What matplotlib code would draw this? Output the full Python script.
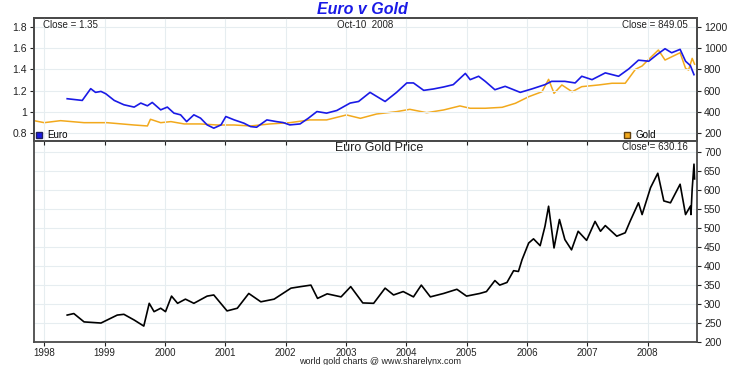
import matplotlib
matplotlib.use("Agg")
import matplotlib.pyplot as plt
from matplotlib.lines import Line2D

plt.rcParams['font.family'] = ['Liberation Sans', 'DejaVu Sans']

# Euro in US$ (left axis, top panel)
euro_t = [1998.38, 1998.63, 1998.77, 1998.85, 1998.94, 1999.02, 1999.16, 1999.32, 1999.49,
          1999.60, 1999.71, 1999.79, 1999.93, 2000.04, 2000.15, 2000.26, 2000.36, 2000.48,
          2000.59, 2000.70, 2000.81, 2000.93, 2001.01, 2001.15, 2001.31, 2001.42, 2001.52,
          2001.69, 2001.85, 2001.96, 2002.07, 2002.24, 2002.38, 2002.52, 2002.68, 2002.85,
          2003.07, 2003.21, 2003.40, 2003.51, 2003.65, 2003.84, 2004.01, 2004.12, 2004.29,
          2004.45, 2004.62, 2004.78, 2004.98, 2005.06, 2005.20, 2005.31, 2005.47, 2005.64,
          2005.89, 2006.08, 2006.30, 2006.41, 2006.63, 2006.80, 2006.91, 2007.08, 2007.30,
          2007.52, 2007.69, 2007.85, 2008.02, 2008.16, 2008.29, 2008.40, 2008.54, 2008.63,
          2008.71, 2008.77]
euro = [1.123, 1.107, 1.218, 1.183, 1.192, 1.170, 1.107, 1.066, 1.044,
        1.082, 1.056, 1.088, 1.018, 1.044, 0.987, 0.971, 0.907, 0.971,
        0.940, 0.876, 0.845, 0.876, 0.955, 0.923, 0.892, 0.860, 0.854,
        0.923, 0.907, 0.898, 0.876, 0.885, 0.940, 1.002, 0.987, 1.012,
        1.082, 1.097, 1.183, 1.145, 1.097, 1.183, 1.272, 1.272, 1.202,
        1.215, 1.234, 1.256, 1.362, 1.303, 1.335, 1.287, 1.208, 1.240,
        1.183, 1.215, 1.256, 1.287, 1.287, 1.272, 1.335, 1.303, 1.367,
        1.335, 1.405, 1.487, 1.477, 1.541, 1.595, 1.557, 1.589, 1.477,
        1.436, 1.350]

# Gold in US$ (right axis, top panel)
gold_t = [1997.83, 1998.00, 1998.27, 1998.66, 1999.04, 1999.49, 1999.71, 1999.76, 1999.93,
          2000.10, 2000.32, 2000.59, 2000.87, 2001.15, 2001.42, 2001.74, 2002.07, 2002.40,
          2002.68, 2003.01, 2003.24, 2003.51, 2003.84, 2004.06, 2004.34, 2004.62, 2004.89,
          2005.06, 2005.31, 2005.59, 2005.81, 2006.03, 2006.25, 2006.36, 2006.45, 2006.58,
          2006.75, 2006.91, 2007.19, 2007.41, 2007.63, 2007.80, 2007.91, 2008.02, 2008.18,
          2008.29, 2008.46, 2008.54, 2008.63, 2008.68, 2008.74, 2008.78]
gold = [316, 297, 316, 297, 297, 275, 266, 329, 297,
        307, 285, 285, 275, 275, 266, 285, 297, 323,
        323, 370, 338, 379, 401, 423, 391, 417, 455,
        433, 433, 442, 480, 542, 589, 706, 574, 653,
        589, 637, 653, 669, 669, 801, 832, 895, 983,
        888, 935, 957, 810, 794, 904, 849]

# Gold priced in Euro (bottom panel)
eg_t = [1998.38, 1998.49, 1998.66, 1998.94, 1999.21, 1999.32, 1999.49, 1999.65, 1999.74,
        1999.82, 1999.93, 2000.01, 2000.11, 2000.21, 2000.34, 2000.48, 2000.70, 2000.81,
        2001.03, 2001.20, 2001.39, 2001.59, 2001.81, 2002.09, 2002.25, 2002.42, 2002.53,
        2002.69, 2002.92, 2003.08, 2003.28, 2003.46, 2003.65, 2003.79, 2003.95, 2004.12,
        2004.25, 2004.40, 2004.62, 2004.84, 2005.00, 2005.22, 2005.33, 2005.47, 2005.55,
        2005.67, 2005.78, 2005.86, 2005.92, 2006.03, 2006.11, 2006.22, 2006.30, 2006.36,
        2006.45, 2006.54, 2006.63, 2006.74, 2006.85, 2006.99, 2007.13, 2007.22, 2007.30,
        2007.49, 2007.63, 2007.71, 2007.85, 2007.91, 2008.05, 2008.17, 2008.27, 2008.38,
        2008.54, 2008.63, 2008.71, 2008.72, 2008.74, 2008.77, 2008.78]
eg = [271, 275, 253, 250, 271, 273, 258, 242, 302,
      280, 289, 280, 321, 302, 313, 302, 321, 324,
      282, 289, 328, 306, 313, 342, 346, 350, 315,
      327, 319, 346, 303, 302, 342, 324, 333, 319,
      350, 319, 328, 339, 321, 328, 333, 362, 350,
      357, 388, 386, 417, 461, 472, 454, 505, 558,
      448, 523, 470, 443, 492, 468, 518, 492, 507,
      479, 488, 518, 567, 536, 607, 645, 572, 567,
      616, 536, 558, 536, 603, 669, 630]

years = list(range(1998, 2009))
left_ticks = [0.8, 1.0, 1.2, 1.4, 1.6, 1.8]
left_labels = ['0.8', '1', '1.2', '1.4', '1.6', '1.8']
right_ticks = [200, 400, 600, 800, 1000, 1200]
bottom_ticks = list(range(200, 701, 50))

BLUE = '#1a1ae6'
ORANGE = '#f2a91c'
FRAME = '#4a4a4a'
GRID = '#e6edf0'
TXT = '#222222'

fig = plt.figure(figsize=(7.30, 3.65), dpi=100)
ax_top = fig.add_axes([34/730, 1-141/365, 663/730, 123/365])
ax_gold = ax_top.twinx()
ax_bot = fig.add_axes([34/730, 1-342/365, 663/730, 201/365])

xlim = (1997.83, 2008.82)

# top panel: gold on the twin axis, drawn underneath the euro line
ax_gold.plot(gold_t, gold, color=ORANGE, lw=1.1, zorder=2)
ax_top.set_zorder(ax_gold.get_zorder() + 1)
ax_top.patch.set_visible(False)
ax_gold.patch.set_visible(True)
ax_gold.patch.set_facecolor('white')
ax_top.plot(euro_t, euro, color=BLUE, lw=1.2, zorder=3)
ax_top.set_xlim(*xlim)
ax_top.set_ylim(0.724, 1.885)
ax_gold.set_ylim(124, 1285)
ax_top.set_yticks(left_ticks)
ax_top.set_yticklabels(left_labels)
ax_gold.set_yticks(right_ticks)
ax_top.set_xticks(years)
ax_top.set_xticklabels([])
ax_top.tick_params(axis='x', length=0)
ax_top.grid(True, color=GRID, lw=0.8, zorder=0)
ax_top.set_axisbelow(True)

# bottom panel
ax_bot.plot(eg_t, eg, color='black', lw=1.2)
ax_bot.set_xlim(*xlim)
ax_bot.set_ylim(200, 730)
ax_bot.set_xticks(years)
ax_bot.set_xticklabels([str(y) for y in years])
ax_bot.yaxis.tick_right()
ax_bot.set_yticks(bottom_ticks)
ax_bot.grid(True, color=GRID, lw=0.8)
ax_bot.set_axisbelow(True)

for a in (ax_top, ax_gold, ax_bot):
    for s in a.spines.values():
        s.set_color(FRAME)
        s.set_linewidth(1.3)
    a.tick_params(labelsize=7.5, colors=TXT, length=3, width=0.8, pad=2)
ax_top.tick_params(axis='y', direction='out')
ax_bot.tick_params(axis='x', length=3, pad=1, labelsize=7)

# labels
fig.text(0.497, 1-9/365, 'Euro v Gold', ha='center', va='center',
         fontsize=11.5, fontweight='bold', fontstyle='italic', color=BLUE)
ax_top.text(0.5, 0.985, 'Oct-10  2008', transform=ax_top.transAxes, ha='center', va='top',
            fontsize=7, color=TXT)
ax_top.text(0.014, 0.985, 'Close = 1.35', transform=ax_top.transAxes, ha='left', va='top',
            fontsize=7, color=TXT)
ax_top.text(0.986, 0.985, 'Close = 849.05', transform=ax_top.transAxes, ha='right', va='top',
            fontsize=7, color=TXT)
ax_bot.text(0.52, 0.995, 'Euro Gold Price', transform=ax_bot.transAxes, ha='center', va='top',
            fontsize=9, color=TXT)
ax_bot.text(0.986, 0.995, 'Close = 630.16', transform=ax_bot.transAxes, ha='right', va='top',
            fontsize=7, color=TXT)
fig.text(0.52, 1-361.5/365, 'world gold charts @ www.sharelynx.com', ha='center', va='center',
         fontsize=6.5, color=TXT)

# legend squares
h_euro = Line2D([], [], marker='s', ls='none', markersize=5, markerfacecolor=BLUE,
                markeredgecolor='#202060')
h_gold = Line2D([], [], marker='s', ls='none', markersize=5, markerfacecolor=ORANGE,
                markeredgecolor='#604010')
leg1 = ax_top.legend([h_euro], ['Euro'], loc='lower left', frameon=False, fontsize=7,
                     handlelength=0.8, handletextpad=0.5, borderaxespad=0.0, borderpad=0.1)
ax_top.add_artist(leg1)
ax_top.legend([h_gold], ['Gold'], loc='lower right', bbox_to_anchor=(0.94, 0.0),
              frameon=False, fontsize=7, handlelength=0.8, handletextpad=0.5,
              borderaxespad=0.0, borderpad=0.1)

fig.savefig('out.png', dpi=100)
